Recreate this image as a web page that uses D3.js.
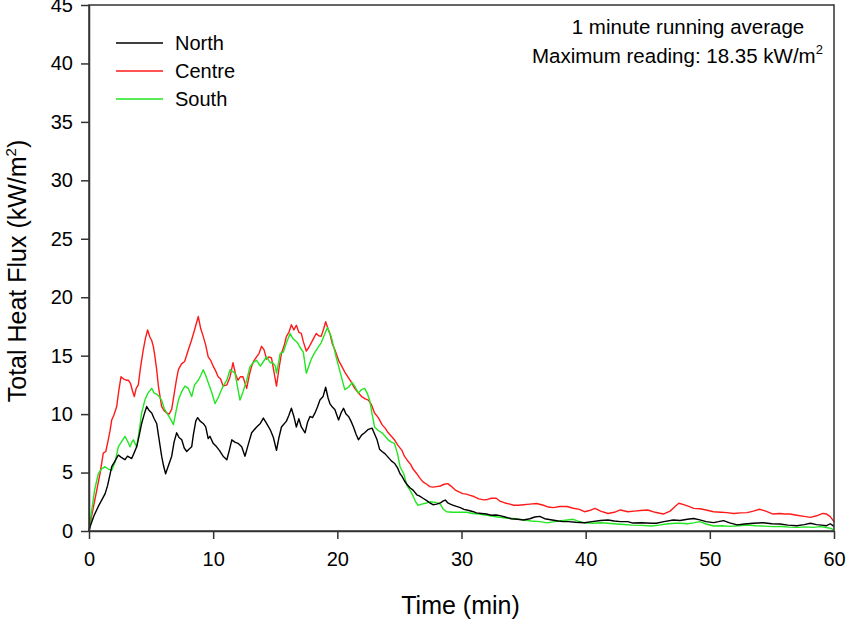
<!DOCTYPE html>
<html>
<head>
<meta charset="utf-8">
<script src="https://cdn.jsdelivr.net/npm/d3@7/dist/d3.min.js"></script>
<style>
  html, body { margin: 0; padding: 0; background: #fff; }
  svg { display: block; font-family: Arial, "Liberation Sans", sans-serif; }
</style>
</head>
<body>
<svg id="chart" width="855" height="642"></svg>
<script>
// ---------- DATA ----------
const seriesNames = ["North", "Centre", "South"];
const xTicks = [0, 10, 20, 30, 40, 50, 60];
const yTicks = [0, 5, 10, 15, 20, 25, 30, 35, 40, 45];

// [time (min), total heat flux (kW/m²)]
const north = [[0,0],[0.1,0.4],[0.4,1.3],[0.75,2.1],[1.0,2.6],[1.3,3.2],[1.5,3.9],[1.83,5.5],[2.1,6.0],[2.36,6.5],[2.6,6.3],[2.9,6.1],[3.1,6.4],[3.44,6.2],[3.6,6.6],[3.84,7.2],[4.05,8.2],[4.24,9.2],[4.45,10.0],[4.65,10.65],[4.85,10.3],[5.05,10.1],[5.25,9.6],[5.45,9.2],[5.65,7.8],[5.85,6.4],[6.0,5.6],[6.17,4.9],[6.4,5.6],[6.66,6.4],[6.85,7.6],[7.06,8.4],[7.25,8.0],[7.47,7.8],[7.67,7.1],[7.87,6.8],[8.05,7.0],[8.27,7.2],[8.4,8.2],[8.6,9.4],[8.75,9.7],[8.95,9.4],[9.2,9.2],[9.4,8.9],[9.6,7.9],[9.74,8.1],[10.0,7.5],[10.28,7.2],[10.5,6.9],[10.8,6.4],[11.1,6.1],[11.3,6.9],[11.5,7.8],[11.75,7.6],[12.0,7.5],[12.3,7.2],[12.56,6.4],[12.8,7.3],[13.1,8.4],[13.5,8.9],[13.8,9.2],[14.04,9.66],[14.3,9.2],[14.6,8.66],[14.85,8.0],[15.1,6.9],[15.3,8.0],[15.5,8.9],[15.9,9.4],[16.1,9.9],[16.3,10.5],[16.5,9.8],[16.7,8.9],[16.9,9.6],[17.1,8.9],[17.4,8.4],[17.6,9.3],[17.8,9.8],[18.0,9.7],[18.2,10.1],[18.4,10.6],[18.6,11.2],[18.85,11.5],[19.06,12.3],[19.25,11.4],[19.4,10.9],[19.6,10.6],[19.8,10.4],[20.1,9.5],[20.3,10.1],[20.5,10.5],[20.7,10.0],[20.9,9.8],[21.1,9.4],[21.3,8.9],[21.5,8.3],[21.7,7.8],[21.95,8.2],[22.2,8.4],[22.5,8.7],[22.8,8.8],[23.0,8.3],[23.2,7.8],[23.4,7.0],[23.6,6.8],[23.85,6.6],[24.1,6.3],[24.35,6.0],[24.6,5.8],[24.85,5.4],[25.05,4.9],[25.2,4.7],[25.4,4.3],[25.6,4.0],[25.85,3.7],[26.1,3.5],[26.4,3.1],[26.6,3.0],[26.9,2.8],[27.2,2.6],[27.45,2.4],[27.7,2.25],[28.0,2.3],[28.3,2.4],[28.5,2.55],[28.7,2.65],[28.9,2.4],[29.1,2.3],[29.35,2.2],[29.6,2.1],[29.9,2.0],[30.2,1.85],[30.6,1.75],[30.95,1.65],[31.2,1.55],[31.6,1.5],[32.0,1.45],[32.4,1.35],[32.8,1.37],[33.1,1.32],[33.5,1.2],[34.0,1.05],[34.5,1.0],[35.0,0.94],[35.5,1.05],[35.9,1.2],[36.3,1.25],[36.7,1.05],[37.3,0.94],[37.8,0.85],[38.2,0.8],[38.6,0.8],[39.2,0.75],[39.9,0.71],[40.5,0.8],[41.2,0.9],[41.8,0.94],[42.3,0.85],[42.8,0.8],[43.4,0.8],[43.8,0.68],[44.5,0.7],[45.3,0.66],[45.7,0.66],[46.3,0.8],[47.06,0.94],[47.6,0.9],[48.2,1.0],[48.7,1.07],[49.2,0.95],[49.7,0.8],[50.3,0.72],[50.7,0.8],[51.1,0.89],[51.6,0.7],[52.2,0.52],[52.8,0.6],[53.5,0.66],[54.3,0.71],[55.0,0.62],[55.65,0.6],[56.3,0.5],[57.0,0.45],[57.6,0.55],[58.1,0.66],[58.6,0.55],[59.0,0.5],[59.4,0.45],[59.7,0.62],[60,0.4]];

const centre = [[0,0],[0.2,1.2],[0.48,2.7],[0.7,3.9],[0.89,4.9],[1.05,6.0],[1.15,6.66],[1.35,6.8],[1.55,7.8],[1.7,8.6],[1.83,9.5],[2.0,9.9],[2.23,10.65],[2.4,12.0],[2.58,13.2],[2.8,13.0],[3.0,12.9],[3.17,12.9],[3.35,12.6],[3.5,12.0],[3.65,11.5],[3.8,12.2],[3.97,12.5],[4.15,14.0],[4.37,15.5],[4.55,16.5],[4.72,17.2],[4.9,16.6],[5.05,16.3],[5.18,15.8],[5.3,15.0],[5.45,13.8],[5.6,12.3],[5.85,10.65],[6.05,10.3],[6.26,10.1],[6.45,10.0],[6.66,10.4],[6.9,12.0],[7.05,13.0],[7.2,13.8],[7.45,14.3],[7.7,14.5],[7.85,15.0],[8.0,15.5],[8.25,16.3],[8.5,17.2],[8.8,18.35],[9.0,17.3],[9.2,16.65],[9.4,15.9],[9.6,14.9],[9.8,14.6],[10.0,14.1],[10.2,13.7],[10.4,13.2],[10.6,13.0],[10.8,12.4],[11.1,12.5],[11.36,13.2],[11.6,14.4],[11.8,13.4],[12.0,12.9],[12.2,13.2],[12.4,13.2],[12.7,12.2],[12.9,13.3],[13.1,14.1],[13.3,14.6],[13.5,14.9],[13.7,15.2],[13.9,15.8],[14.1,15.5],[14.3,14.7],[14.5,14.9],[14.7,14.8],[14.9,13.6],[15.1,12.4],[15.3,13.9],[15.5,15.2],[15.7,15.8],[15.9,16.65],[16.1,17.0],[16.3,17.65],[16.5,17.2],[16.7,17.6],[16.9,17.0],[17.1,16.9],[17.26,16.2],[17.5,15.4],[17.7,15.7],[17.9,16.1],[18.1,16.5],[18.3,16.9],[18.5,16.7],[18.7,16.65],[18.9,17.3],[19.06,17.9],[19.25,17.3],[19.4,16.9],[19.6,16.0],[19.8,15.5],[20.1,14.6],[20.35,14.1],[20.6,13.6],[20.9,13.1],[21.15,12.7],[21.4,12.2],[21.7,11.8],[21.96,11.5],[22.25,11.3],[22.5,11.2],[22.75,10.8],[23.0,10.1],[23.3,9.7],[23.6,9.1],[23.85,8.8],[24.1,8.4],[24.35,8.1],[24.6,7.8],[24.9,7.3],[25.2,6.9],[25.4,6.4],[25.6,6.1],[25.9,5.7],[26.1,5.3],[26.4,4.9],[26.66,4.5],[26.9,4.2],[27.2,4.0],[27.45,3.8],[27.7,3.75],[28.0,3.8],[28.3,3.85],[28.6,4.0],[28.9,4.05],[29.2,3.8],[29.5,3.5],[29.8,3.35],[30.1,3.2],[30.4,3.15],[30.7,3.05],[31.0,2.95],[31.4,2.75],[31.8,2.66],[32.1,2.7],[32.4,2.8],[32.8,2.8],[33.1,2.55],[33.5,2.4],[33.9,2.3],[34.2,2.2],[34.6,2.2],[35.0,2.25],[35.5,2.3],[36.05,2.35],[36.6,2.2],[37.0,2.05],[37.4,2.0],[37.9,2.1],[38.5,2.1],[39.0,1.95],[39.5,1.85],[39.9,1.65],[40.3,1.75],[40.75,1.94],[41.2,1.7],[41.8,1.5],[42.3,1.6],[42.8,1.8],[43.4,1.65],[43.9,1.7],[44.4,1.75],[45.0,1.8],[45.6,1.6],[46.25,1.45],[46.8,1.7],[47.2,2.1],[47.5,2.37],[47.9,2.25],[48.3,2.1],[48.7,1.94],[49.2,1.9],[49.7,1.8],[50.3,1.65],[50.9,1.6],[51.4,1.57],[51.9,1.5],[52.5,1.55],[53.0,1.57],[53.5,1.7],[54.0,1.86],[54.5,1.7],[55.1,1.45],[55.65,1.5],[56.0,1.45],[56.45,1.45],[57.0,1.35],[57.6,1.25],[58.1,1.17],[58.6,1.3],[59.1,1.5],[59.4,1.45],[59.7,1.23],[60,0.8]];

const south = [[0,0],[0.2,1.6],[0.45,3.5],[0.75,4.9],[1.0,5.3],[1.29,5.5],[1.55,5.3],[1.83,5.2],[2.1,5.9],[2.36,7.2],[2.6,7.6],[2.9,8.1],[3.1,7.7],[3.3,7.2],[3.45,7.6],[3.57,7.8],[3.84,7.2],[4.05,8.6],[4.24,10.1],[4.5,11.2],[4.75,11.8],[5.05,12.2],[5.25,11.8],[5.45,11.7],[5.65,11.5],[5.85,11.2],[6.05,10.5],[6.26,10.1],[6.5,9.7],[6.8,9.1],[7.0,10.2],[7.2,11.2],[7.45,11.9],[7.73,12.4],[8.0,12.2],[8.27,11.5],[8.5,12.5],[8.8,12.9],[9.0,13.3],[9.2,13.8],[9.4,13.3],[9.6,12.7],[9.9,11.8],[10.15,10.9],[10.4,11.4],[10.8,12.4],[11.1,12.9],[11.36,13.8],[11.76,13.5],[11.95,12.4],[12.16,11.2],[12.4,11.9],[12.7,12.9],[12.95,14.0],[13.2,14.4],[13.5,14.6],[13.8,14.1],[14.05,14.5],[14.3,14.9],[14.6,14.4],[14.8,14.4],[15.0,14.1],[15.1,13.5],[15.25,14.3],[15.4,15.2],[15.65,15.3],[15.9,16.1],[16.2,16.9],[16.4,16.5],[16.6,16.3],[16.8,16.1],[17.0,15.7],[17.26,15.3],[17.5,13.5],[17.7,14.1],[17.9,14.7],[18.2,15.3],[18.5,15.8],[18.7,16.1],[19.0,16.9],[19.2,17.4],[19.35,17.0],[19.5,16.65],[19.7,15.8],[19.9,14.9],[20.1,14.1],[20.35,13.1],[20.6,12.1],[20.9,12.3],[21.2,12.7],[21.45,12.3],[21.7,11.8],[21.95,12.1],[22.2,12.2],[22.4,11.8],[22.6,11.2],[22.8,10.0],[23.0,8.9],[23.3,8.6],[23.6,8.4],[23.85,8.1],[24.1,7.8],[24.35,7.6],[24.6,7.5],[24.85,6.6],[25.05,5.5],[25.2,5.2],[25.35,4.9],[25.6,3.9],[25.85,3.5],[26.1,3.0],[26.3,2.5],[26.5,2.2],[26.8,2.3],[27.2,2.4],[27.5,2.5],[27.9,2.45],[28.3,2.3],[28.5,1.9],[28.8,1.65],[29.3,1.6],[29.8,1.6],[30.4,1.6],[30.9,1.5],[31.4,1.45],[32.3,1.3],[32.9,1.2],[33.6,1.1],[34.4,1.05],[35.0,0.95],[35.6,0.85],[36.3,0.8],[36.9,0.7],[37.5,0.8],[38.2,0.9],[39.0,1.0],[39.4,0.85],[39.9,0.7],[40.6,0.66],[41.2,0.7],[41.8,0.66],[42.5,0.6],[43.1,0.55],[43.7,0.5],[44.5,0.48],[45.3,0.43],[45.9,0.5],[46.5,0.6],[47.2,0.66],[47.6,0.66],[48.2,0.62],[48.7,0.7],[49.2,0.8],[49.7,0.6],[50.3,0.43],[51.0,0.45],[51.6,0.4],[52.3,0.45],[53.0,0.51],[53.7,0.45],[54.4,0.42],[55.1,0.37],[55.8,0.38],[56.4,0.33],[57.0,0.31],[57.7,0.35],[58.3,0.31],[58.9,0.37],[59.4,0.3],[59.8,0.2],[60,0.05]];

const seriesData = [north, centre, south];
const seriesColors = ["#000000", "#ff1a1a", "#22e622"];

// ---------- LAYOUT ----------
const svg = d3.select("#chart");
const L = 89, R = 834, T = 5, B = 531;
const x = d3.scaleLinear().domain([0, 60]).range([L, R]);
const y = d3.scaleLinear().domain([0, 45]).range([B, T]);
const axisColor = "#333";

// series lines
const line = d3.line().x(d => x(d[0])).y(d => y(d[1]));
const order = [1, 2, 0];
order.forEach(i => {
  svg.append("path")
    .datum(seriesData[i])
    .attr("fill", "none")
    .attr("stroke", seriesColors[i])
    .attr("stroke-width", 1.4)
    .attr("stroke-linejoin", "round")
    .attr("d", line);
});

// frame
svg.append("rect")
  .attr("x", L).attr("y", T).attr("width", R - L).attr("height", B - T)
  .attr("fill", "none").attr("stroke", axisColor).attr("stroke-width", 1.5);

// axes
const xAxis = d3.axisBottom(x).tickValues(xTicks).tickSize(8).tickPadding(13).tickSizeOuter(0);
const yAxis = d3.axisLeft(y).tickValues(yTicks).tickSize(8).tickPadding(8).tickSizeOuter(0);

const gx = svg.append("g").attr("transform", `translate(0,${B})`).call(xAxis);
const gy = svg.append("g").attr("transform", `translate(${L},0)`).call(yAxis);
[gx, gy].forEach(g => {
  g.select(".domain").attr("stroke", axisColor).attr("stroke-width", 1.5);
  g.selectAll(".tick line").attr("stroke", axisColor).attr("stroke-width", 1.5);
  g.selectAll(".tick text").attr("fill", "#000").style("font-size", "20px")
    .style("font-family", "Arial, 'Liberation Sans', sans-serif");
});

// axis titles
svg.append("text")
  .attr("x", (L + R) / 2 - 1).attr("y", 614)
  .attr("text-anchor", "middle")
  .style("font-size", "25px")
  .text("Time (min)");

const yt = svg.append("text")
  .attr("transform", `translate(26,${(T + B) / 2 + 3}) rotate(-90)`)
  .attr("text-anchor", "middle")
  .style("font-size", "25px");
yt.append("tspan").text("Total Heat Flux (kW/m");
yt.append("tspan").attr("dy", -10).style("font-size", "15px").text("2");
yt.append("tspan").attr("dy", 10).text(")");

// legend
const legY = [43, 71, 99];
seriesNames.forEach((n, i) => {
  svg.append("line")
    .attr("x1", 116).attr("x2", 163).attr("y1", legY[i]).attr("y2", legY[i])
    .attr("stroke", seriesColors[i]).attr("stroke-width", 1.4);
  svg.append("text")
    .attr("x", 175).attr("y", legY[i] + 7)
    .style("font-size", "20px")
    .text(n);
});

// annotation
svg.append("text")
  .attr("x", 688).attr("y", 34)
  .attr("text-anchor", "middle")
  .style("font-size", "20.5px")
  .text("1 minute running average");
const ann = svg.append("text")
  .attr("x", 532).attr("y", 63)
  .style("font-size", "20.5px");
ann.append("tspan").text("Maximum reading: 18.35 kW/m");
ann.append("tspan").attr("dy", -9).style("font-size", "13px").text("2");
</script>
</body>
</html>
